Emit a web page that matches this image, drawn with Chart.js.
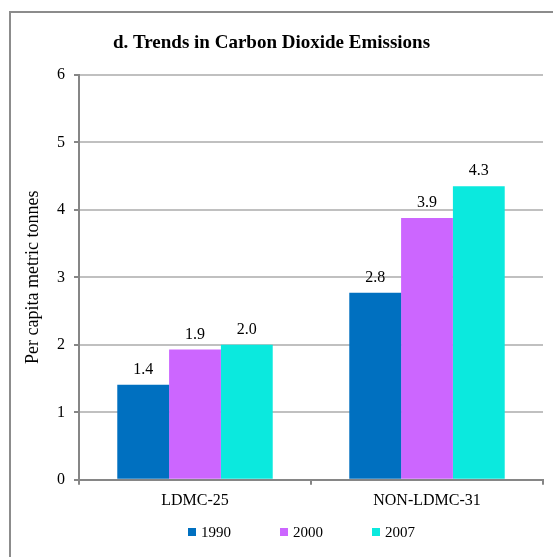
<!DOCTYPE html>
<html>
<head>
<meta charset="utf-8">
<script src="https://cdn.jsdelivr.net/npm/chart.js@4.4.1/dist/chart.umd.min.js"></script>
<style>
  html, body { margin: 0; padding: 0; background: #fff; }
  #wrap { width: 553px; height: 557px; }
</style>
</head>
<body>
<div id="wrap"><canvas id="chart" width="553" height="557"></canvas></div>
<script>
const categories = ['LDMC-25', 'NON-LDMC-31'];
const years = ['1990', '2000', '2007'];
const values1990 = [1.41, 2.77];
const values2000 = [1.93, 3.88];
const values2007 = [2.0, 4.35];
const yTicks = [0, 1, 2, 3, 4, 5, 6];

const colors = ['#0070C0', '#CC66FF', '#0BE9DE'];
const serif = "'Liberation Serif', 'Times New Roman', serif";

// outer frame of the figure
const framePlugin = {
    id: 'frame',
    beforeDraw(chart) {
        const { ctx } = chart;
        ctx.save();
        ctx.fillStyle = '#fff';
        ctx.fillRect(0, 0, chart.width, chart.height);
        ctx.strokeStyle = '#8c8c8c';
        ctx.lineWidth = 2;
        ctx.beginPath();
        ctx.moveTo(10, chart.height);
        ctx.lineTo(10, 12);
        ctx.lineTo(chart.width, 12);
        ctx.stroke();
        ctx.restore();
    },
};

// numbers above the bars
const valueLabels = {
    id: 'valueLabels',
    afterDatasetsDraw(chart) {
        const { ctx } = chart;
        ctx.save();
        ctx.font = '16px ' + serif;
        ctx.fillStyle = '#000';
        ctx.textAlign = 'center';
        ctx.textBaseline = 'bottom';
        chart.data.datasets.forEach((ds, i) => {
            chart.getDatasetMeta(i).data.forEach((bar, j) => {
                ctx.fillText(ds.data[j].toFixed(1), bar.x, bar.y - 7);
            });
        });
        ctx.restore();
    },
};

// legend with small squares, spaced like the original
const squareLegend = {
    id: 'squareLegend',
    afterDraw(chart) {
        const { ctx } = chart;
        const y = 532;
        let x = 188;
        ctx.save();
        ctx.font = '15px ' + serif;
        ctx.textBaseline = 'middle';
        ctx.textAlign = 'left';
        chart.data.datasets.forEach(ds => {
            ctx.fillStyle = ds.backgroundColor;
            ctx.fillRect(x, y - 4, 8, 8);
            ctx.fillStyle = '#000';
            ctx.fillText(ds.label, x + 13, y + 1);
            x += 92;
        });
        ctx.restore();
    },
};

const ctx = document.getElementById('chart').getContext('2d');

new Chart(ctx, {
    type: 'bar',
    data: {
        labels: categories,
        datasets: [
            { label: years[0], data: values1990, backgroundColor: colors[0] },
            { label: years[1], data: values2000, backgroundColor: colors[1] },
            { label: years[2], data: values2007, backgroundColor: colors[2] },
        ],
    },
    options: {
        responsive: false,
        animation: false,
        layout: { padding: { left: 0, right: 10, top: 0, bottom: 41 } },
        datasets: {
            bar: { categoryPercentage: 0.67, barPercentage: 1.0, borderWidth: 0 },
        },
        plugins: {
            legend: { display: false },
            tooltip: { enabled: false },
            title: {
                display: true,
                text: 'd. Trends in Carbon Dioxide Emissions',
                color: '#000',
                font: { family: serif, size: 19, weight: 'bold' },
                padding: { top: 32, bottom: 20 },
            },
        },
        scales: {
            x: {
                grid: {
                    offset: true,
                    color: c => (c.index === 2 ? '#c0c0c0' : 'rgba(0,0,0,0)'),
                    lineWidth: 2,
                    tickColor: '#868686',
                    tickLength: 5,
                },
                border: { color: '#868686', width: 2 },
                ticks: {
                    color: '#000',
                    padding: 6,
                    font: { family: serif, size: 16 },
                },
            },
            y: {
                min: 0,
                max: 6,
                afterFit(scale) { scale.width = 79; },
                afterBuildTicks(scale) { scale.ticks = yTicks.map(v => ({ value: v })); },
                grid: {
                    color: '#c0c0c0',
                    lineWidth: 2,
                    tickColor: '#868686',
                    tickLength: 5,
                },
                border: { color: '#868686', width: 2 },
                ticks: {
                    color: '#000',
                    padding: 9,
                    font: { family: serif, size: 16 },
                },
                title: {
                    display: true,
                    text: 'Per capita metric tonnes',
                    color: '#000',
                    font: { family: serif, size: 18 },
                    padding: { top: 22, bottom: 0 },
                },
            },
        },
    },
    plugins: [framePlugin, valueLabels, squareLegend],
});
</script>
</body>
</html>
